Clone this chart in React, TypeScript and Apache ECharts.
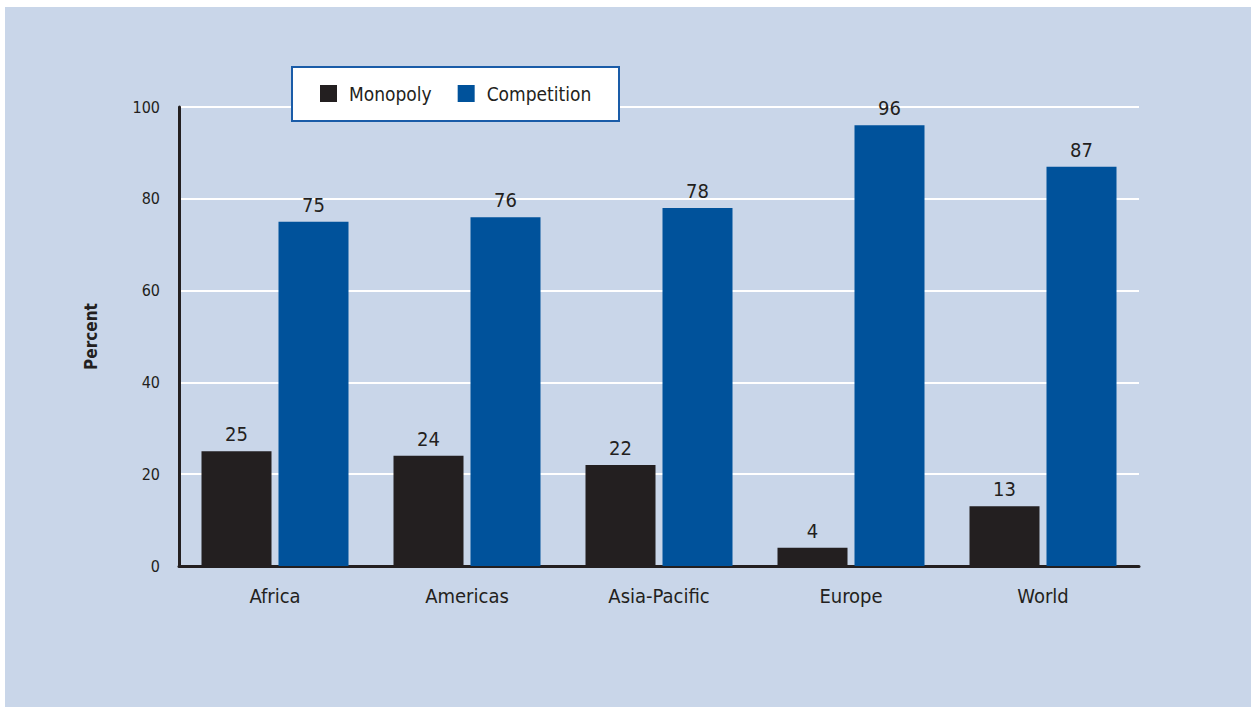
import React, { useEffect, useRef } from "react";
import * as echarts from "echarts";

const categories = ["Africa", "Americas", "Asia-Pacific", "Europe", "World"];
const monopoly = [25, 24, 22, 4, 13];
const competition = [75, 76, 78, 96, 87];
const seriesNames = ["Monopoly", "Competition"];
const yTicks = { min: 0, max: 100, interval: 20 };

const FONT = "'Liberation Sans Narrow', 'DejaVu Sans Condensed', 'Roboto', sans-serif";
const TEXT = "#231f20";
const BLUE = "#00529b";

export default function App() {
  const ref = useRef<HTMLDivElement>(null);
  useEffect(() => {
    document.body.style.margin = "0";
    const chart = echarts.init(ref.current!, undefined, { renderer: "svg" });
    chart.setOption({
      animation: false,
      graphic: [
        {
          type: "rect",
          z: -10,
          silent: true,
          shape: { x: 5, y: 7, width: 1246, height: 700 },
          style: { fill: "#c9d6e9" },
        },
        {
          type: "rect",
          z: 5,
          silent: true,
          shape: { x: 292, y: 67, width: 327, height: 54 },
          style: { fill: "#ffffff", stroke: "#1a5ca8", lineWidth: 2 },
        },
      ],
      legend: {
        left: 320,
        top: 84,
        z: 10,
        padding: 0,
        itemWidth: 17,
        itemHeight: 17,
        itemGap: 26,
        icon: "rect",
        data: seriesNames,
        textStyle: { fontFamily: FONT, fontSize: 19, color: TEXT, padding: [0, 0, 0, 7] },
      },
      grid: { left: 179, right: 112, top: 107, bottom: 141, containLabel: false },
      xAxis: {
        type: "category",
        data: categories,
        axisLine: { show: true, lineStyle: { color: TEXT, width: 3 } },
        axisTick: { show: false },
        axisLabel: { fontFamily: FONT, fontSize: 20, color: TEXT, margin: 20 },
      },
      yAxis: {
        type: "value",
        min: yTicks.min,
        max: yTicks.max,
        interval: yTicks.interval,
        name: "Percent",
        nameLocation: "middle",
        nameGap: 80,
        nameTextStyle: { fontFamily: FONT, fontSize: 17, fontWeight: "bold", color: TEXT },
        axisLine: { show: true, lineStyle: { color: TEXT, width: 3 } },
        axisTick: { show: false },
        axisLabel: { fontFamily: FONT, fontSize: 16, color: TEXT, margin: 19 },
        splitLine: { show: true, lineStyle: { color: "#ffffff", width: 2 } },
      },
      series: [
        {
          name: seriesNames[0],
          type: "bar",
          data: monopoly,
          barWidth: 70,
          barGap: "10%",
          itemStyle: { color: TEXT },
          label: { show: true, position: "top", distance: 7, fontFamily: FONT, fontSize: 20, color: TEXT },
        },
        {
          name: seriesNames[1],
          type: "bar",
          data: competition,
          barWidth: 70,
          barGap: "10%",
          itemStyle: { color: BLUE },
          label: { show: true, position: "top", distance: 7, fontFamily: FONT, fontSize: 20, color: TEXT },
        },
      ],
    });
    return () => chart.dispose();
  }, []);
  return <div ref={ref} style={{ position: "absolute", left: 0, top: 0, width: 1251, height: 707 }} />;
}
